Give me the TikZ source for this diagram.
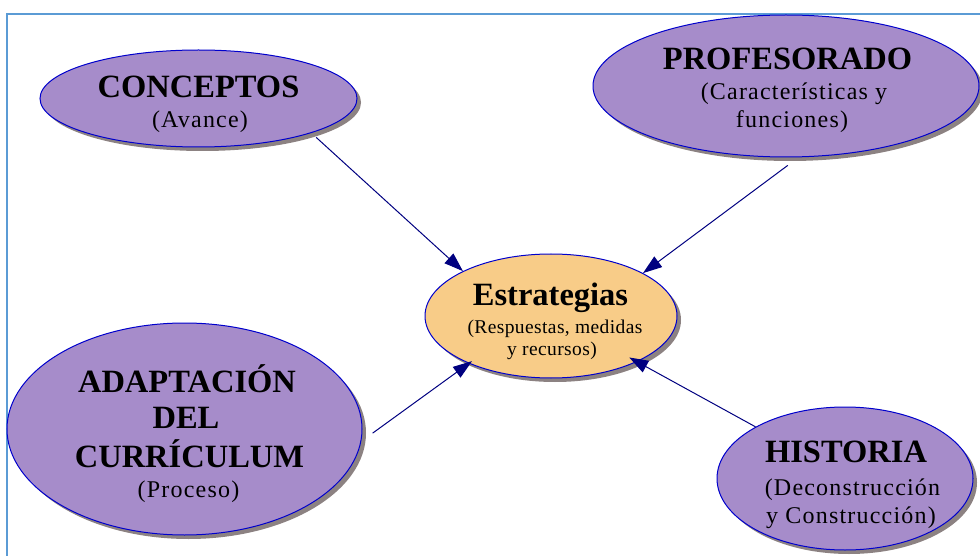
\documentclass[tikz,border=0pt]{standalone}
\usepackage{fontspec}
\setmainfont{Liberation Serif}
\newfontfamily\subfont[LetterSpace=5]{Liberation Serif}
\newfontfamily\subsfont[LetterSpace=2]{Liberation Serif}
\usetikzlibrary{shapes.geometric,shadows,arrows.meta}
\definecolor{lav}{RGB}{166,140,202}
\definecolor{peach}{RGB}{248,204,136}
\definecolor{rim}{RGB}{0,0,204}
\definecolor{navy}{RGB}{0,0,128}
\definecolor{shade}{RGB}{140,130,130}
\definecolor{framec}{RGB}{91,155,213}
\begin{document}
\begin{tikzpicture}[x=1pt,y=-1pt,
 bubble/.style={ellipse, draw=rim, line width=1pt, fill=lav, inner sep=0pt,
   drop shadow={shadow xshift=4pt,shadow yshift=-4pt,fill=shade,opacity=1}},
 head/.style={anchor=base, inner sep=0pt, font=\fontsize{32.5}{36}\selectfont\bfseries},
 sub/.style={anchor=base, inner sep=0pt, font=\fontsize{24}{28}\selectfont\subfont},
 subs/.style={anchor=base, inner sep=0pt, font=\fontsize{19.5}{23}\selectfont\subsfont},
 link/.style={draw=navy, line width=1pt, -{Triangle[length=19pt,width=13pt]}}]
\useasboundingbox (0,0) rectangle (980,556);
\draw[framec, line width=2pt] (7,560) -- (7,14) -- (984,14);

\node[bubble, minimum width=317pt, minimum height=97pt] (c) at (198.5,98.5) {};
\node[bubble, minimum width=386pt, minimum height=142pt] (p) at (786,86) {};
\node[bubble, fill=peach, minimum width=252pt, minimum height=124pt] (e) at (551,316) {};
\node[bubble, minimum width=355pt, minimum height=212pt] (a) at (184.5,429) {};
\node[bubble, minimum width=256pt, minimum height=143pt] (h) at (845,478.5) {};

\node[head] (c1) at (198.5,98) {CONCEPTOS};
\node[sub]  (c2) at (200,128) {(Avance)};

\node[head] (p1) at (787.5,70) {PROFESORADO};
\node[sub]  (p2) at (794,100) {(Características y};
\node[sub]  (p3) at (792,128) {funciones)};

\node[head] (e1) at (550.5,305) {Estrategias};
\node[subs] (e2) at (555,333) {(Respuestas, medidas};
\node[subs] (e3) at (552,355) {y recursos)};

\node[head] (a1) at (187,392) {ADAPTACIÓN};
\node[head] (a2) at (186,428) {DEL};
\node[head] (a3) at (189.5,467) {CURRÍCULUM};
\node[sub]  (a4) at (188.5,497) {(Proceso)};

\node[head] (h1) at (846,462) {HISTORIA};
\node[sub]  (h2) at (852.5,495) {(Deconstrucción};
\node[sub]  (h3) at (851,523) {y Construcción)};

\draw[link, shorten <=6.6pt] (c.-17.8) -- (e.153.4);
\draw[link, shorten <=13.5pt] (p.-80.6) -- (e.25.3);
\draw[link, shorten <=14pt, shorten >=-4pt] (a.-4) -- (e.-150.9);
\draw[link, shorten >=-9pt] (h.150.8) -- (e.-28.3);
\end{tikzpicture}
\end{document}
